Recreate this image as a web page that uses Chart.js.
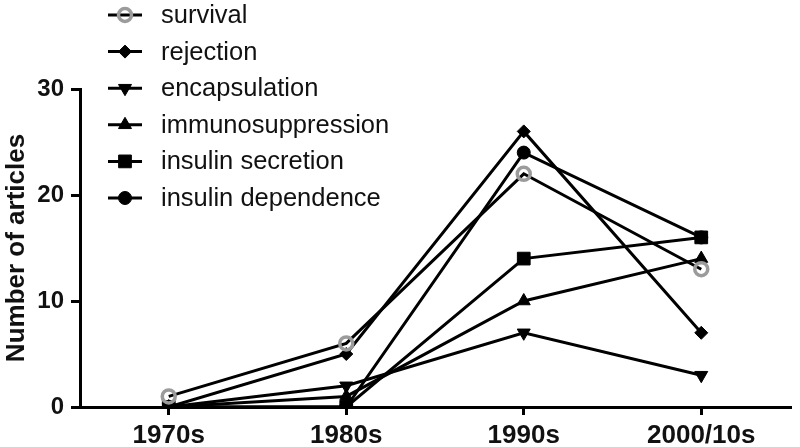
<!DOCTYPE html>
<html>
<head>
<meta charset="utf-8">
<script src="https://cdn.jsdelivr.net/npm/chart.js@4/dist/chart.umd.min.js"></script>
<style>
  html, body { margin: 0; padding: 0; background: #fff; }
  #wrap { position: relative; width: 800px; height: 447px; }
</style>
</head>
<body>
<div id="wrap"><canvas id="articlesChart"></canvas></div>
<script>
// decades on the x axis
const decades = ['1970s', '1980s', '1990s', '2000/10s'];

// number of articles per decade, one list per topic
const survival = [1, 6, 22, 13];
const rejection = [0, 5, 26, 7];
const encapsulation = [0, 2, 7, 3];
const immunosuppression = [0, 1, 10, 14];
const insulinSecretion = [0, 0, 14, 16];
const insulinDependence = [0, 0, 24, 16];

const yTicks = [0, 10, 20, 30];

const FONT = '"Liberation Sans", Arial, Helvetica, sans-serif';

function series(label, data, pointStyle, radius, extra) {
    return Object.assign({
        label: label,
        data: data,
        borderColor: '#000',
        borderWidth: 3,
        pointStyle: pointStyle,
        pointRadius: radius,
        pointHoverRadius: radius,
        pointBackgroundColor: '#000',
        pointBorderColor: '#000',
        pointBorderWidth: 1,
        tension: 0,
        fill: false
    }, extra || {});
}

// legend drawn inside the plot, top left, like the original figure
const insideLegend = {
    id: 'insideLegend',
    afterDraw(chart) {
        const ctx = chart.ctx;
        const drawPoint = Chart.helpers && Chart.helpers.drawPoint;
        ctx.save();
        chart.data.datasets.forEach(function(ds, i) {
            const y = 15 + i * 36.6;
            ctx.strokeStyle = '#000';
            ctx.lineWidth = 3;
            ctx.beginPath();
            ctx.moveTo(108, y);
            ctx.lineTo(142, y);
            ctx.stroke();
            if (drawPoint) {
                ctx.fillStyle = ds.pointBackgroundColor;
                ctx.strokeStyle = ds.pointBorderColor;
                ctx.lineWidth = ds.pointBorderWidth;
                drawPoint(ctx, {
                    pointStyle: ds.pointStyle,
                    radius: ds.pointRadius,
                    rotation: ds.pointRotation || 0,
                    borderWidth: ds.pointBorderWidth
                }, 125, y);
            }
            ctx.fillStyle = '#111';
            ctx.font = '25.5px ' + FONT;
            ctx.textAlign = 'left';
            ctx.textBaseline = 'middle';
            ctx.fillText(ds.label, 161, y + 1);
        });
        ctx.restore();
    }
};

const ctx = document.getElementById('articlesChart');
new Chart(ctx, {
    type: 'line',
    data: {
        labels: decades,
        datasets: [
            series('survival', survival, 'circle', 6.5, {
                pointBackgroundColor: 'rgba(255,255,255,0)',
                pointBorderColor: '#9b9b9b',
                pointBorderWidth: 3.5
            }),
            series('rejection', rejection, 'rectRot', 6.5),
            series('encapsulation', encapsulation, 'triangle', 7.5, { pointRotation: 180 }),
            series('immunosuppression', immunosuppression, 'triangle', 7.5),
            series('insulin secretion', insulinSecretion, 'rect', 9),
            series('insulin dependence', insulinDependence, 'circle', 6.5)
        ]
    },
    options: {
        responsive: true,
        maintainAspectRatio: false,
        animation: false,
        layout: { padding: { top: 89, right: 5, left: 0, bottom: 0 } },
        plugins: {
            legend: { display: false },
            tooltip: { enabled: false }
        },
        scales: {
            x: {
                offset: true,
                border: { display: true, color: '#000', width: 3 },
                grid: { drawOnChartArea: false, drawTicks: true, tickLength: 8, color: '#000', lineWidth: 3 },
                ticks: { color: '#111', padding: 5, font: { family: FONT, size: 26, weight: 'bold' } },
                afterFit(scale) { scale.height = 40; }
            },
            y: {
                min: 0,
                max: 30,
                afterBuildTicks(scale) { scale.ticks = yTicks.map(v => ({ value: v })); },
                border: { display: true, color: '#000', width: 3 },
                grid: { drawOnChartArea: false, drawTicks: true, tickLength: 9, color: '#000', lineWidth: 3 },
                ticks: { color: '#111', padding: 7, font: { family: FONT, size: 24, weight: 'bold' } },
                title: {
                    display: true,
                    text: 'Number of articles',
                    color: '#111',
                    padding: 1,
                    font: { family: FONT, size: 26, weight: 'bold' }
                },
                afterFit(scale) { scale.width = 80; }
            }
        }
    },
    plugins: [insideLegend]
});
</script>
</body>
</html>
